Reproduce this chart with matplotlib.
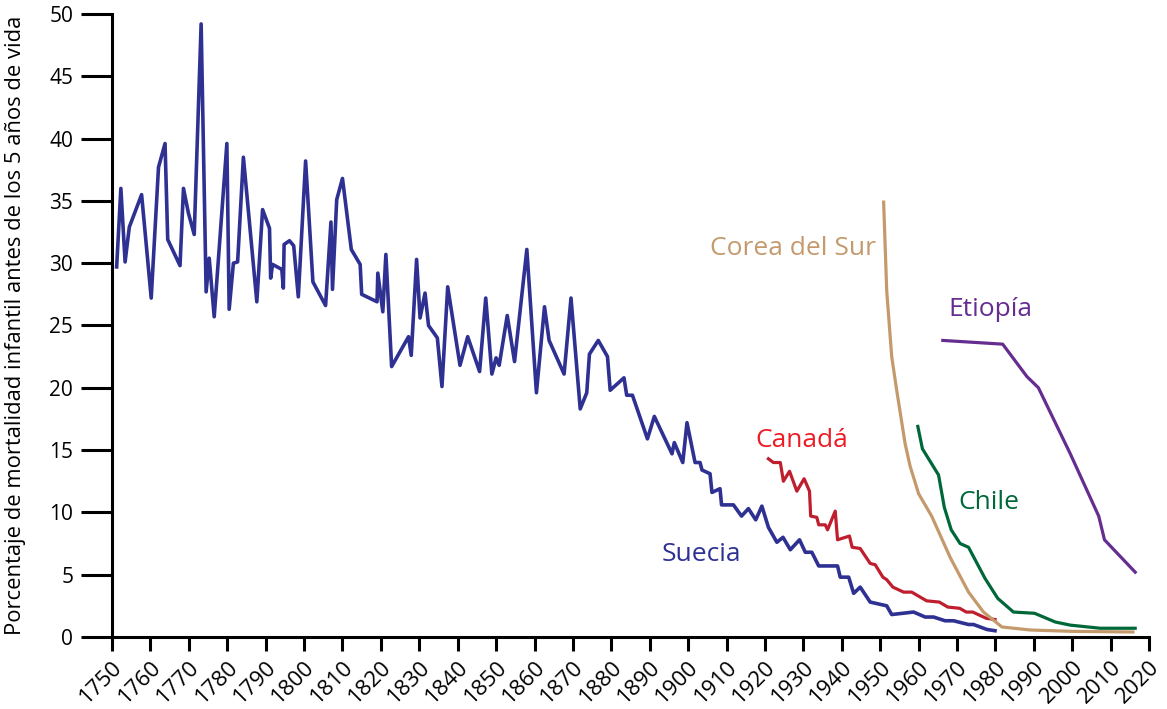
"""
Mortalidad infantil antes de los 5 años - Suecia, Canadá, Corea del Sur, Chile, Etiopía
"""

import matplotlib
matplotlib.use('Agg')
import matplotlib.pyplot as plt
from matplotlib.transforms import ScaledTranslation

plt.rcParams['font.family'] = ['Open Sans', 'DejaVu Sans']

# Suecia
sweden_years = [1751.2, 1752.3, 1753.4, 1754.5, 1757.7, 1760.2, 1762.1, 1763.8, 1764.5, 1767.7,
                1768.6, 1769.9, 1771.4, 1773.2, 1774.5, 1775.3, 1776.6, 1779.9, 1780.5, 1781.6,
                1782.7, 1784.2, 1787.7, 1789.2, 1791.0, 1791.3, 1791.8, 1794.2, 1794.6, 1794.8,
                1796.2, 1797.3, 1798.5, 1800.4, 1802.3, 1805.6, 1807.0, 1807.4, 1808.5, 1810.0,
                1812.3, 1814.6, 1815.0, 1819.0, 1819.2, 1820.5, 1821.3, 1822.8, 1827.2, 1827.9,
                1829.3, 1830.2, 1831.5, 1832.4, 1834.7, 1835.9, 1837.4, 1840.6, 1842.6, 1845.7,
                1847.3, 1848.9, 1850.0, 1850.8, 1852.9, 1854.8, 1858.0, 1860.5, 1862.6, 1863.8,
                1867.7, 1869.5, 1871.9, 1873.6, 1874.3, 1876.6, 1879.0, 1879.7, 1883.3, 1884.0,
                1885.5, 1889.4, 1891.2, 1895.8, 1896.4, 1898.6, 1899.7, 1901.8, 1903.1, 1903.6,
                1905.7, 1906.2, 1908.3, 1908.7, 1911.8, 1913.9, 1915.7, 1917.6, 1919.2, 1920.9,
                1923.1, 1924.7, 1926.6, 1929.0, 1930.5, 1932.2, 1934.0, 1938.9, 1939.6, 1941.8,
                1943.1, 1944.8, 1947.4, 1951.7, 1953.0, 1958.7, 1961.7, 1963.9, 1966.9, 1969.1,
                1973.0, 1974.3, 1977.8, 1979.9]
sweden_vals = [29.7, 36.0, 30.1, 32.9, 35.5, 27.2, 37.7, 39.6, 31.9, 29.8,
               36.0, 34.0, 32.3, 49.2, 27.7, 30.4, 25.7, 39.6, 26.3, 30.0,
               30.1, 38.5, 26.9, 34.3, 32.8, 28.8, 29.9, 29.5, 28.0, 31.5,
               31.8, 31.4, 27.3, 38.2, 28.5, 26.6, 33.3, 27.9, 35.1, 36.8,
               31.1, 29.9, 27.5, 26.9, 29.2, 26.1, 30.7, 21.7, 24.1, 22.6,
               30.3, 25.6, 27.6, 25.0, 24.0, 20.1, 28.1, 21.8, 24.1, 21.3,
               27.2, 21.1, 22.4, 21.8, 25.8, 22.1, 31.1, 19.6, 26.5, 23.8,
               21.1, 27.2, 18.3, 19.6, 22.7, 23.8, 22.5, 19.8, 20.8, 19.4,
               19.4, 15.9, 17.7, 14.7, 15.6, 14.0, 17.2, 14.0, 14.0, 13.4,
               13.1, 11.6, 11.9, 10.6, 10.6, 9.7, 10.3, 9.4, 10.5, 8.8,
               7.6, 8.0, 7.0, 7.8, 6.8, 6.8, 5.7, 5.7, 4.8, 4.8,
               3.5, 4.0, 2.8, 2.5, 1.8, 2.0, 1.6, 1.6, 1.3, 1.3,
               1.0, 1.0, 0.6, 0.5]

# Canadá
canada_years = [1920.9, 1922.2, 1924.0, 1924.8, 1926.4, 1928.3, 1930.2, 1931.6, 1931.9, 1933.5,
                1934.0, 1935.7, 1936.3, 1938.3, 1938.9, 1942.0, 1942.7, 1944.8, 1947.4, 1948.7,
                1950.7, 1951.7, 1953.3, 1956.1, 1958.2, 1962.1, 1965.4, 1967.6, 1970.7, 1972.4,
                1974.1, 1977.6, 1979.9]
canada_vals = [14.3, 14.0, 14.0, 12.5, 13.3, 11.7, 12.7, 11.7, 9.7, 9.6,
               9.0, 9.0, 8.6, 10.1, 7.8, 8.1, 7.2, 7.1, 5.9, 5.8,
               4.8, 4.6, 4.0, 3.6, 3.6, 2.9, 2.8, 2.4, 2.3, 2.0,
               2.0, 1.5, 1.4]

# Corea del Sur
korea_years = [1950.9, 1951.7, 1953.0, 1954.3, 1956.5, 1957.8, 1960.0, 1963.4, 1968.2, 1973.0,
               1976.9, 1981.7, 1989.1, 2000.0, 2015.8]
korea_vals = [34.9, 27.8, 22.5, 19.8, 15.5, 13.7, 11.5, 9.7, 6.4, 3.6,
              2.0, 0.8, 0.56, 0.45, 0.4]

# Chile
chile_years = [1959.8, 1961.0, 1965.2, 1966.7, 1968.5, 1970.8, 1973.0, 1977.3, 1980.6, 1984.7,
               1990.2, 1995.6, 1999.5, 2007.3, 2016.4]
chile_vals = [16.9, 15.1, 13.0, 10.4, 8.6, 7.5, 7.2, 4.7, 3.1, 2.0,
              1.9, 1.2, 0.95, 0.7, 0.7]

# Etiopía
ethiopia_years = [1966.3, 1981.9, 1988.2, 1991.2, 1999.5, 2006.9, 2008.4, 2016.4]
ethiopia_vals = [23.8, 23.5, 20.9, 20.0, 14.7, 9.7, 7.8, 5.2]

fig = plt.figure(figsize=(11.67, 7.09), dpi=100)
ax = fig.add_axes([0.096, 0.1016, 0.8886, 0.8787])

ax.plot(sweden_years, sweden_vals, color='#2E3192', linewidth=2.6)
ax.plot(canada_years, canada_vals, color='#BE1E2D', linewidth=2.3)
ax.plot(korea_years, korea_vals, color='#C49A6C', linewidth=2.3)
ax.plot(chile_years, chile_vals, color='#006838', linewidth=2.3)
ax.plot(ethiopia_years, ethiopia_vals, color='#662D91', linewidth=2.3)

# Etiquetas de las series
label_kw = dict(fontsize=19, ha='center', va='center')
ax.text(1903.5, 6.6, 'Suecia', color='#2E3192', **label_kw)
ax.text(1929.6, 15.8, 'Canadá', color='#ED1C24', **label_kw)
ax.text(1927.3, 31.2, 'Corea del Sur', color='#C49A6C', **label_kw)
ax.text(1978.8, 26.3, 'Etiopía', color='#662D91', **label_kw)
ax.text(1978.2, 10.8, 'Chile', color='#006838', **label_kw)

ax.set_xlim(1750, 2020)
ax.set_ylim(0, 50)
ax.set_xticks(range(1750, 2021, 10))
ax.set_yticks(range(0, 51, 5))
ax.set_xticklabels([str(y) for y in range(1750, 2021, 10)], rotation=45,
                   ha='right', va='top', rotation_mode='anchor')

# small shift so the rotated labels end just right of each tick
shift = ScaledTranslation(5 / 72, 0, fig.dpi_scale_trans)
for lbl in ax.get_xticklabels():
    lbl.set_transform(lbl.get_transform() + shift)

for side in ['top', 'right']:
    ax.spines[side].set_visible(False)
for side in ['left', 'bottom']:
    ax.spines[side].set_linewidth(2.2)

ax.tick_params(axis='x', length=10, width=2.2, labelsize=16, pad=4)
ax.tick_params(axis='y', length=22, width=2.2, labelsize=15, pad=6)

ax.set_ylabel('Porcentaje de mortalidad infantil antes de los 5 años de vida', fontsize=15.8)
ax.yaxis.set_label_coords(-0.083, 0.5)

fig.savefig('out.png', dpi=100)
